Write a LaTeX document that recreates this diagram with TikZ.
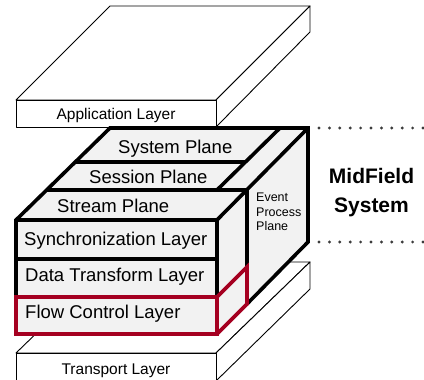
\documentclass[tikz,border=0pt]{standalone}
\usepackage{fontspec}
\setmainfont{Liberation Sans}
\definecolor{blockgray}{RGB}{242,242,242}
\definecolor{flowred}{RGB}{165,0,33}
\definecolor{dotgray}{RGB}{60,60,60}
\begin{document}
\begin{tikzpicture}[x=1pt,y=-1pt,
  slab/.style={draw=black,fill=white,line width=0.9pt,line join=round},
  heavy/.style={draw=black,line width=3.6pt},
  redline/.style={draw=flowred,line width=3.6pt},
  layertext/.style={anchor=base west,inner sep=0pt,font=\fontsize{18.5}{22}\selectfont},
  slabtext/.style={anchor=base,inner sep=0pt,font=\fontsize{15.5}{18}\selectfont},
  dotline/.style={draw=dotgray,line width=3.2pt,line cap=round,dash pattern=on 0pt off 10.4pt}]
\useasboundingbox (0,0) rectangle (424,380);
% Transport slab
\draw[slab] (16,353) -- (110,262) -- (310,262) -- (216,353) -- cycle;
\draw[slab] (216,353) -- (310,262) -- (310,289) -- (216,381) -- cycle;
\draw[slab] (16,353) rectangle (216,381);
% Application slab
\draw[slab] (16,100) -- (110,6) -- (310,6) -- (216,100) -- cycle;
\draw[slab] (216,100) -- (310,6) -- (310,32) -- (216,127) -- cycle;
\draw[slab] (16,100) rectangle (216,127);
% Block fill
\fill[blockgray] (16,220) -- (110,128) -- (308,128) -- (308,242) -- (247,304) -- (217,334) -- (16,334) -- cycle;
% Block lines
\draw[heavy] (16,297) -- (16,220) -- (110,128) -- (308,128) -- (308,242) -- (247,304);
\draw[heavy] (16,220) -- (217,220) -- (217,297);
\draw[heavy] (16,259) -- (217,259);
\draw[heavy] (308,128) -- (217,220);
\draw[heavy] (280,128) -- (217,190);
\draw[heavy] (75.3,162) -- (245.5,162);
\draw[heavy] (46.7,190) -- (247,190) -- (247,267);
% Flow control (red)
\draw[redline] (16,297) rectangle (217,334);
\draw[redline] (217,297) -- (247,267) -- (247,304) -- (217,334);
% Texts
\node[slabtext] (app) at (116,119) {Application Layer};
\node[slabtext] (trans) at (116,374) {Transport Layer};
\node[layertext] (sys) at (118,153) {System Plane};
\node[layertext] (ses) at (89,183) {Session Plane};
\node[layertext] (str) at (57,212) {Stream Plane};
\node[layertext] (sync) at (24,245) {Synchronization Layer};
\node[layertext] (data) at (25,281.5) {Data Transform Layer};
\node[layertext] (flow) at (25,318) {Flow Control Layer};
\node[anchor=north west,inner sep=0pt,align=left,font=\fontsize{12.5}{14.5}\selectfont] (evt) at (256,193) {Event\\Process\\Plane};
\node[anchor=base,inner sep=0pt,font=\fontsize{21}{24}\selectfont\bfseries] (mid) at (371.5,183) {MidField};
\node[anchor=base,inner sep=0pt,font=\fontsize{21}{24}\selectfont\bfseries] (msys) at (371.5,212) {System};
% dotted lines
\coordinate (d1a) at (319,128); \coordinate (d1b) at (424,128);
\coordinate (d2a) at (319,242); \coordinate (d2b) at (424,242);
\draw[dotline] (d1a) -- (d1b);
\draw[dotline] (d2a) -- (d2b);
\end{tikzpicture}
\end{document}
